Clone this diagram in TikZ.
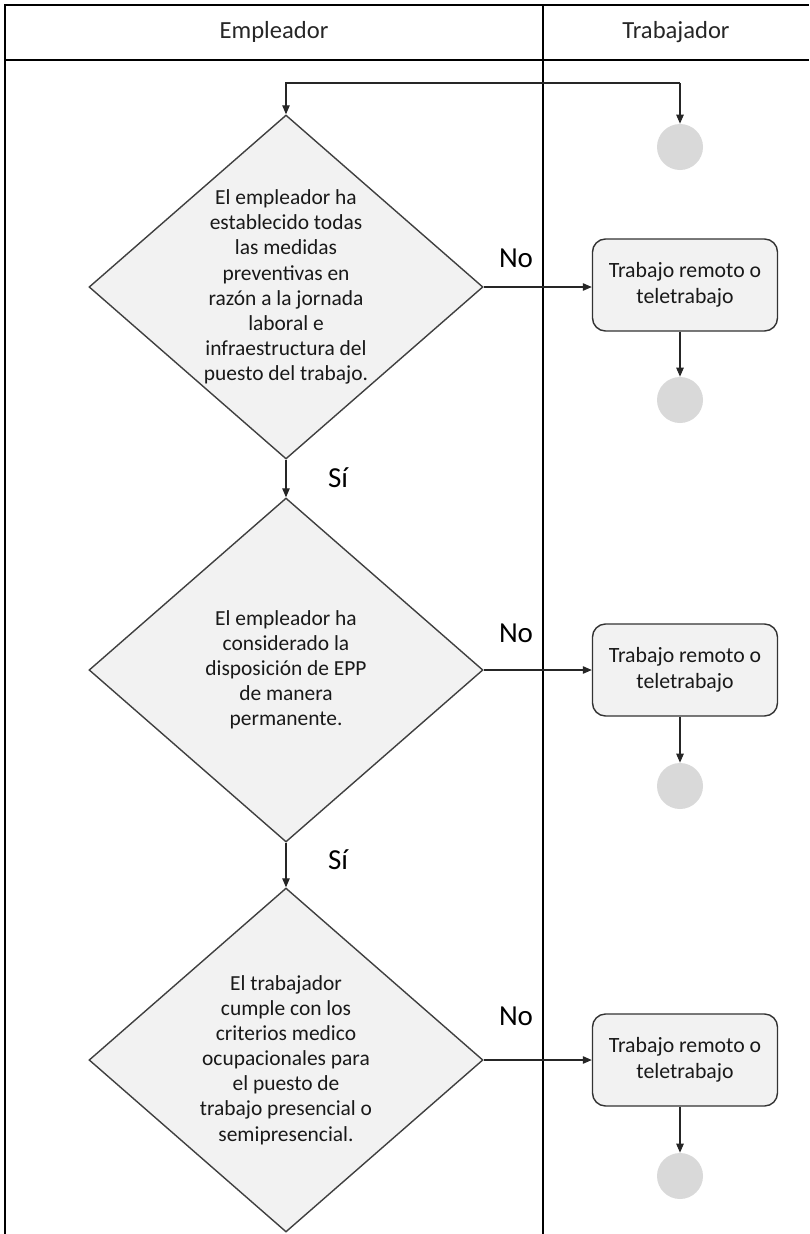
\documentclass[tikz,border=0pt]{standalone}
\usepackage{fontspec}
\setmainfont{Carlito}
\usetikzlibrary{shapes.geometric,arrows.meta,positioning}

\begin{document}
\begin{tikzpicture}[x=0.2mm,y=-0.2mm,
  decision/.style={diamond,draw=black!75,fill=black!5,line width=0.8pt,
    minimum width=78.8mm,minimum height=68.8mm,inner sep=0pt},
  dtext/.style={align=center,font=\fontsize{12.2}{14.3}\selectfont,text=black!90},
  activity/.style={rectangle,rounded corners=2.6mm,draw=black!80,fill=black!5,
    line width=0.8pt,minimum width=37mm,minimum height=18.4mm,align=center,
    font=\fontsize{12.4}{14.6}\selectfont,text=black!90},
  final/.style={circle,fill=black!15,minimum size=9.2mm,inner sep=0pt},
  answer/.style={font=\fontsize{16.5}{18}\selectfont,text=black},
  lane/.style={font=\fontsize{14}{16}\selectfont,text=black!85},
  arr/.style={-{Triangle[length=1.8mm,width=1.5mm]},line width=0.6pt,draw=black!85}]

  \useasboundingbox (0,0) rectangle (809,1234);

  % swimlanes
  \draw[line width=1.3pt] (5,1234) -- (5,5) -- (809,5);
  \draw[line width=1.1pt] (5,60) -- (809,60);
  \draw[line width=0.8pt] (543,5) -- (543,60);
  \draw[line width=1.6pt] (543,60) -- (543,1234);
  \node[lane] (emp) at (274,32) {Empleador};
  \node[lane] (tra) at (676,32) {Trabajador};

  % decisions of the employer
  \node[decision] (d1) at (286,287) {};
  \node[dtext] (d1t) at (d1) {El empleador ha\\establecido todas\\las medidas\\preventivas en\\raz\'on a la jornada\\laboral e\\infraestructura del\\puesto del trabajo.};
  \node[decision] (d2) at (286,670) {};
  \node[dtext] (d2t) at (d2) {El empleador ha\\considerado la\\disposici\'on de EPP\\de manera\\permanente.};
  \node[decision] (d3) at (286,1060) {};
  \node[dtext] (d3t) at (d3) {El trabajador\\cumple con los\\criterios medico\\ocupacionales para\\el puesto de\\trabajo presencial o\\semipresencial.};

  % worker lane
  \node[final] (c0) at (680,147) {};
  \node[activity] (b1) at (685,285) {Trabajo remoto o\\teletrabajo};
  \node[final] (c1) at (680,400) {};
  \node[activity] (b2) at (685,670) {Trabajo remoto o\\teletrabajo};
  \node[final] (c2) at (680,786) {};
  \node[activity] (b3) at (685,1060) {Trabajo remoto o\\teletrabajo};
  \node[final] (c3) at (680,1176) {};

  % start
  \coordinate (top) at (680,83);
  \draw[arr] (top) -- (c0);
  \draw[arr] (top) -| (d1.north);

  % answers
  \draw[arr] (d1.east) -- (d1.east -| b1.west);
  \draw[arr] (d2.east) -- (d2.east -| b2.west);
  \draw[arr] (d3.east) -- (d3.east -| b3.west);
  \draw[arr] (d1.south) -- (d2.north);
  \draw[arr] (d2.south) -- (d3.north);
  \draw[arr] (b1.south -| c1) -- (c1);
  \draw[arr] (b2.south -| c2) -- (c2);
  \draw[arr] (b3.south -| c3) -- (c3);

  \node[answer] (no1) at (516,258) {No};
  \node[answer] (no2) at (516,633) {No};
  \node[answer] (no3) at (516,1016) {No};
  \node[answer] (si1) at (338,478) {Sí};
  \node[answer] (si2) at (338,860) {Sí};
\end{tikzpicture}
\end{document}
